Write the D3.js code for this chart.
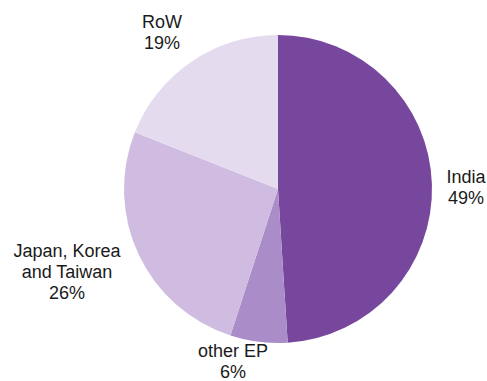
<!DOCTYPE html>
<html>
<head>
<meta charset="utf-8">
<script src="https://cdn.jsdelivr.net/npm/d3@7"></script>
<style>
  html, body { margin: 0; padding: 0; background: #fff; }
  svg { display: block; }
  text { font-family: "Liberation Sans", Arial, sans-serif; font-size: 18px; fill: #1a1a1a; }
</style>
</head>
<body>
<svg id="chart" width="487" height="381"></svg>
<script>
// Share of total, in percent
const categories = ["India", "other EP", "Japan, Korea\nand Taiwan", "RoW"];
const shares = [49, 6, 26, 19];
const colors = ["#77479D", "#A98CC8", "#CFBCE0", "#E5DBEF"];

// Label anchor points (centre of the text block's first baseline)
const labelAnchors = [[466, 183], [233, 357], [67, 257], [162, 28]];

const width = 487, height = 381;
const cx = 278, cy = 189, radius = 154;
const lineHeight = 21;

const svg = d3.select("#chart");
const g = svg.append("g").attr("transform", `translate(${cx},${cy})`);

const pie = d3.pie().sort(null).value(d => d.value);
const arc = d3.arc().innerRadius(0).outerRadius(radius);

const data = categories.map((c, i) => ({ name: c, value: shares[i], color: colors[i] }));

g.selectAll("path")
  .data(pie(data))
  .join("path")
  .attr("d", arc)
  .attr("fill", d => d.data.color);

const labels = svg.selectAll("text.label")
  .data(data)
  .join("text")
  .attr("class", "label")
  .attr("text-anchor", "middle")
  .attr("transform", (d, i) => `translate(${labelAnchors[i][0]},${labelAnchors[i][1]})`);

labels.each(function(d) {
  const lines = d.name.split("\n").concat([d.value + "%"]);
  d3.select(this).selectAll("tspan")
    .data(lines)
    .join("tspan")
    .attr("x", 0)
    .attr("y", (l, j) => j * lineHeight)
    .text(l => l);
});
</script>
</body>
</html>
